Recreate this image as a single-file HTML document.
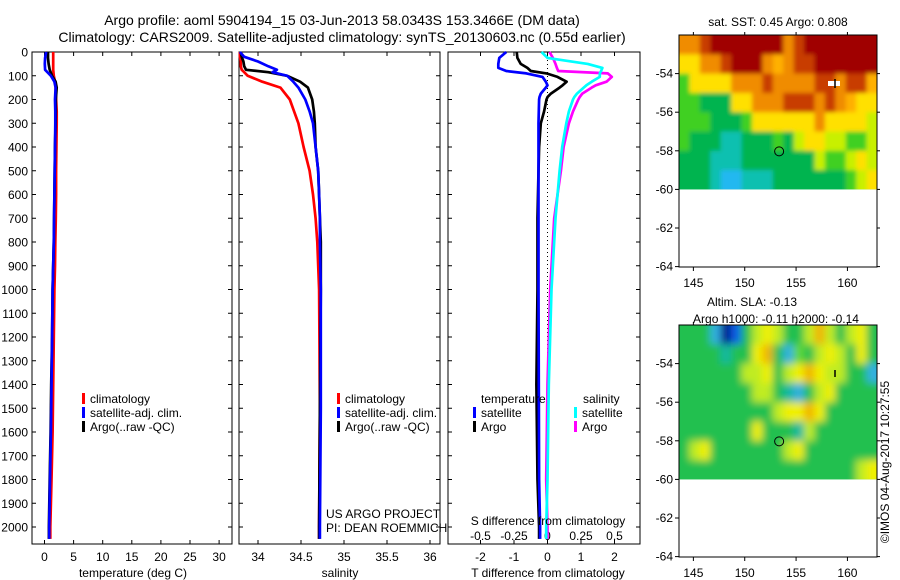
<!DOCTYPE html>
<html><head><meta charset="utf-8">
<style>
body{margin:0;background:#fff;}
svg{display:block;font-family:"Liberation Sans",sans-serif;}
</style></head>
<body>
<svg id="fig" width="900" height="580" viewBox="0 0 900 580">
<defs>
<filter id="blurS" x="-5%" y="-5%" width="110%" height="110%"><feGaussianBlur stdDeviation="2"/></filter>
<filter id="blurL" x="-5%" y="-5%" width="110%" height="110%"><feGaussianBlur stdDeviation="4"/></filter>
<clipPath id="clip1"><rect x="679" y="35" width="198" height="154.4"/></clipPath>
<clipPath id="clip2"><rect x="679" y="325" width="198" height="154.4"/></clipPath>
</defs>
<rect width="900" height="580" fill="#fff"/>
<text x="342" y="25" font-size="14" text-anchor="middle">Argo profile: aoml 5904194_15 03-Jun-2013 58.0343S 153.3466E (DM data)</text>
<text x="342" y="42" font-size="14" text-anchor="middle">Climatology: CARS2009. Satellite-adjusted climatology: synTS_20130603.nc (0.55d earlier)</text>
<g id="g"></g>
</svg>
<script>
// ---------- data ----------
const tDepths=[0,25,50,75,100,125,150,200,250,300,400,500,600,700,800,900,1000,1200,1400,1600,1800,2000,2050];
const tempClim=[1.5,1.5,1.5,1.5,1.6,1.8,1.9,2.0,2.1,2.1,2.05,2.0,2.0,1.95,1.85,1.8,1.7,1.6,1.5,1.4,1.2,1.0,1.0];
const tempSat=[0.3,0.1,0.05,0.1,1.1,1.7,1.9,1.8,1.85,1.85,1.8,1.75,1.7,1.65,1.6,1.5,1.4,1.3,1.2,1.1,0.95,0.8,0.8];
const tempArgo=[0.6,0.6,0.7,0.9,1.3,1.9,2.1,1.95,1.95,1.9,1.8,1.75,1.7,1.65,1.6,1.5,1.4,1.3,1.15,1.05,0.9,0.75,0.75];
const sDepths=[0,20,40,60,75,85,100,125,150,200,250,300,400,500,600,700,800,1000,1500,2000,2050];
const salClim=[33.79,33.79,33.80,33.80,33.81,33.84,33.88,34.05,34.26,34.37,34.42,34.47,34.53,34.60,34.64,34.67,34.69,34.71,34.72,34.71,34.71];
const salSat=[33.79,33.84,34.00,34.12,34.22,34.17,34.34,34.41,34.47,34.55,34.60,34.64,34.67,34.70,34.71,34.72,34.72,34.73,34.73,34.72,34.72];
const salArgo=[33.80,33.81,33.83,33.84,33.86,34.12,34.34,34.49,34.58,34.63,34.65,34.66,34.67,34.70,34.71,34.72,34.73,34.73,34.72,34.71,34.71];
const dDepths=[0,25,50,67,80,90,105,125,140,150,175,190,200,250,300,400,500,700,1000,1400,1800,2000,2050];
const tDiffSat=[-1.23,-1.44,-1.47,-1.47,-1.23,-0.63,-0.15,-0.05,0,-0.05,-0.2,-0.24,-0.25,-0.26,-0.27,-0.27,-0.27,-0.27,-0.27,-0.26,-0.25,-0.22,-0.22];
const tDiffArgo=[-0.92,-0.9,-0.8,-0.6,-0.5,-0.03,0.3,0.57,0.45,0.36,0.1,0.0,-0.03,-0.1,-0.2,-0.25,-0.27,-0.3,-0.3,-0.33,-0.3,-0.25,-0.25];
const sDiffSat=[-0.045,0.0,0.3,0.41,0.4,0.39,0.39,0.33,0.29,0.27,0.22,0.2,0.19,0.16,0.14,0.11,0.09,0.06,0.03,0.01,0.0,-0.01,-0.01];
const sDiffArgo=[0.015,0.04,0.06,0.07,0.08,0.45,0.48,0.44,0.36,0.33,0.26,0.24,0.23,0.19,0.16,0.12,0.1,0.05,0.02,0.0,-0.01,0.0,0.0];
const depthTicks=[0,100,200,300,400,500,600,700,800,900,1000,1100,1200,1300,1400,1500,1600,1700,1800,1900,2000];
const tempTicks=[0,5,10,15,20,25,30];
const salTicks=[34,34.5,35,35.5,36];
const salTickLabels=["34","34.5","35","35.5","36"];
const tdTicks=[-2,-1,0,1,2];
const sdTicks=[-0.5,-0.25,0,0.25,0.5];
const sstRows=["oorRRRRRRRorRRRRRRR","yyoorRRRoOorrRRRRRR","gyyyyoooroooorrorrO","ggGGGyyooorrroroOyy","gggGGGgyyyyyyoyyyyl","gGGGttGGGgGlyyllggl","GGGtttGGGGGGGlgglyl","GGGtcctttGGGGGGGgly"];
const slaRows=["GGGcBbGlylGGlolGlyG","GGGGtGGyoGcgGlylGyG","GGGGGGllyGlyoyllGGc","GGGGGGGllGtcGlyGGGG","GGGGGGGGGlyyoyGGGGG","GGGGGGGyGGGtlGGGGGG","GlyGGGGGGGlyGGGGGGG","GGGGGGGGGGGGGGGGGly"];
const mapLonTicks=[145,150,155,160];
const mapLatTicks=[-54,-56,-58,-60,-62,-64];
// ---------- helpers ----------
const NS="http://www.w3.org/2000/svg";
const G=document.getElementById('g');
function el(tag,attrs,parent){const e=document.createElementNS(NS,tag);for(const k in attrs)e.setAttribute(k,attrs[k]);(parent||G).appendChild(e);return e;}
const top0=52,bot=544;
const yD=d=>top0+d*0.2375;
const xT=t=>44.5+t*5.82;
const xS=s=>258+(s-34)*86;
const xTd=t=>547.5+t*33.5;
const xSd=s=>547.5+s*134;
function box(x0,x1,name){
  const r=el('rect',{x:x0,y:top0,width:x1-x0,height:bot-top0,fill:'none',stroke:'#000','stroke-width':1});
  
  
  depthTicks.forEach(d=>{el('line',{x1:x0,x2:x0+4,y1:yD(d),y2:yD(d),stroke:'#000'});el('line',{x1:x1,x2:x1-4,y1:yD(d),y2:yD(d),stroke:'#000'});});
}
function line(xs,ys,fx,color,name,w){
  const pts=xs.map((v,i)=>fx(v).toFixed(1)+','+yD(ys[i]).toFixed(1)).join(' ');
  const p=el('polyline',{points:pts,fill:'none',stroke:color,'stroke-width':w||2.7,'stroke-linejoin':'round'});
  
  
}
function txt(x,y,s,size,anchor,name){const t=el('text',{x:x,y:y,'font-size':size,'text-anchor':anchor||'start'});t.textContent=s;return t;}
// ---------- panel 1 ----------
box(32,232,'temperature-panel');
depthTicks.forEach(d=>{txt(28,yD(d)+4.5,String(d),12,'end','depth-tick-label');});
tempTicks.forEach(t=>{el('line',{x1:xT(t),x2:xT(t),y1:bot,y2:bot-4,stroke:'#000'});el('line',{x1:xT(t),x2:xT(t),y1:top0,y2:top0+4,stroke:'#000'});txt(xT(t),561,String(t),12,'middle','temperature-tick-label');});
txt(133,577,'temperature (deg C)',12,'middle','temperature-axis-title');
line(tempClim,tDepths,xT,'#ff0000','temperature-climatology-line');
line(tempArgo,tDepths,xT,'#000000','temperature-argo-line');
line(tempSat,tDepths,xT,'#0000ff','temperature-satellite-line');
// ---------- panel 2 ----------
box(239,440,'salinity-panel');
salTicks.forEach((s,i)=>{el('line',{x1:xS(s),x2:xS(s),y1:bot,y2:bot-4,stroke:'#000'});el('line',{x1:xS(s),x2:xS(s),y1:top0,y2:top0+4,stroke:'#000'});txt(xS(s),561,salTickLabels[i],12,'middle','salinity-tick-label');});
txt(340,577,'salinity',12,'middle','salinity-axis-title');
line(salClim,sDepths,xS,'#ff0000','salinity-climatology-line');
line(salArgo,sDepths,xS,'#000000','salinity-argo-line');
line(salSat,sDepths,xS,'#0000ff','salinity-satellite-line');
// ---------- panel 3 ----------
box(448,640,'difference-panel');
tdTicks.forEach(t=>{el('line',{x1:xTd(t),x2:xTd(t),y1:bot,y2:bot-4,stroke:'#000'});txt(xTd(t),561,String(t),12,'middle','t-difference-tick-label');});
sdTicks.forEach(s=>{el('line',{x1:xSd(s),x2:xSd(s),y1:top0,y2:top0+4,stroke:'#000'});txt(xSd(s),540,String(s),12,'middle','s-difference-tick-label');});
el('line',{x1:xTd(0),x2:xTd(0),y1:top0,y2:bot,stroke:'#000','stroke-dasharray':'1,3'});
line(sDiffArgo,dDepths,xSd,'#ff00ff','salinity-diff-argo-line');
line(sDiffSat,dDepths,xSd,'#00ffff','salinity-diff-satellite-line');
line(tDiffArgo,dDepths,xTd,'#000000','temperature-diff-argo-line');
line(tDiffSat,dDepths,xTd,'#0000ff','temperature-diff-satellite-line');
txt(548,525,'S difference from climatology',12,'middle','s-difference-axis-title');
txt(548,577,'T difference from climatology',12,'middle','t-difference-axis-title');
// ---------- legends ----------
function leg(x,y,color,label,name){const r=el('rect',{x:x,y:y-10,width:3,height:11,fill:color});txt(x+8,y,label,12,'start',name);}
leg(82,403,'#ff0000','climatology','legend-climatology');
leg(82,417,'#0000ff','satellite-adj. clim.','legend-satellite-adj');
leg(82,431,'#000000','Argo(..raw -QC)','legend-argo');
leg(337,403,'#ff0000','climatology','legend2-climatology');
leg(337,417,'#0000ff','satellite-adj. clim.','legend2-satellite-adj');
leg(337,431,'#000000','Argo(..raw -QC)','legend2-argo');
txt(481,403,'temperature',12,'start','legend-temperature-header');
txt(583,403,'salinity',12,'start','legend-salinity-header');
leg(473,417,'#0000ff','satellite','legend-temperature-satellite');
leg(473,431,'#000000','Argo','legend-temperature-argo');
leg(574,417,'#00ffff','satellite','legend-salinity-satellite');
leg(574,431,'#ff00ff','Argo','legend-salinity-argo');
txt(326,518,'US ARGO PROJECT',12,'start','project-label');
txt(326,532,'PI: DEAN ROEMMICH',12,'start','pi-label');
// ---------- maps ----------
const sstPal={R:'#a00000',r:'#c83c00',o:'#f08c00',O:'#ffb000',y:'#ffe000',l:'#c8f000',g:'#40d020',G:'#00b450',t:'#10c0b0',c:'#20b8f0'};
const slaPal={G:'#20c050',g:'#60d830',l:'#c0ec20',y:'#f0f000',o:'#f0b400',t:'#10b8a0',c:'#30b0e0',b:'#1060e8',B:'#001888'};
const mx0=679,mx1=877;
const xL=lon=>mx0+(lon-143.6)*10.27;
function map(y0,rows,pal,name,clip,filt){
  const cw=(mx1-mx0)/19,ch=19.3;
  const outer=el('g',{'clip-path':'url(#'+clip+')'});
  el('rect',{x:mx0,y:y0,width:mx1-mx0,height:154.4,fill:pal.G},outer);
  const grp=el('g',{filter:'url(#'+filt+')'},outer);
  rows.forEach((row,ri)=>{[...row].forEach((c,ci)=>{
    const x=mx0+ci*cw-(ci===0?6:0), w=cw+0.6+(ci===0||ci===18?6:0);
    const yy=y0+ri*ch-(ri===0?6:0), h=ch+0.6+(ri===0||ri===7?6:0);
    const r=el('rect',{x:x.toFixed(2),y:yy.toFixed(2),width:w.toFixed(2),height:h.toFixed(2),fill:pal[c]},grp);
    
    
  });});
  const b=el('rect',{x:mx0,y:y0,width:mx1-mx0,height:232,fill:'none',stroke:'#000'});
  
  
  const yl=lat=>y0+(-52-lat)*19.3;
  mapLatTicks.forEach(l=>{el('line',{x1:mx0,x2:mx0-4,y1:yl(l),y2:yl(l),stroke:'#000'});el('line',{x1:mx1,x2:mx1+3,y1:yl(l),y2:yl(l),stroke:'#000'});txt(mx0-6,yl(l)+4,String(l),12,'end',name+'-lat-label');});
  mapLonTicks.forEach(l=>{el('line',{x1:xL(l),x2:xL(l),y1:y0+232,y2:y0+236,stroke:'#000'});el('line',{x1:xL(l),x2:xL(l),y1:y0,y2:y0-3,stroke:'#000'});txt(xL(l),y0+252,String(l),12,'middle',name+'-lon-label');});
  const c=el('circle',{cx:xL(153.35),cy:yl(-58.03),r:4.5,fill:'none',stroke:'#000'});
  
  
}
map(35,sstRows,sstPal,'sst-map','clip1','blurS');
map(325,slaRows,slaPal,'sla-map','clip2','blurL');
el('rect',{x:828,y:81,width:12,height:5,fill:'#fff'});
el('line',{x1:835,x2:835,y1:79,y2:88,stroke:'#000','stroke-width':1.5});
el('line',{x1:835,x2:835,y1:370,y2:377,stroke:'#000','stroke-width':1.5});
txt(778,26,'sat. SST: 0.45 Argo: 0.808',12,'middle','sst-map-title');
txt(752,306,'Altim. SLA: -0.13',12,'middle','sla-map-title');
txt(776,323,'Argo h1000: -0.11 h2000: -0.14',12,'middle','sla-map-subtitle');
const r=txt(0,0,'\u00A9IMOS 04-Aug-2017 10:27:55',12,'middle','timestamp-label');
r.setAttribute('transform','translate(889,462) rotate(-90)');
</script>
</body></html>
